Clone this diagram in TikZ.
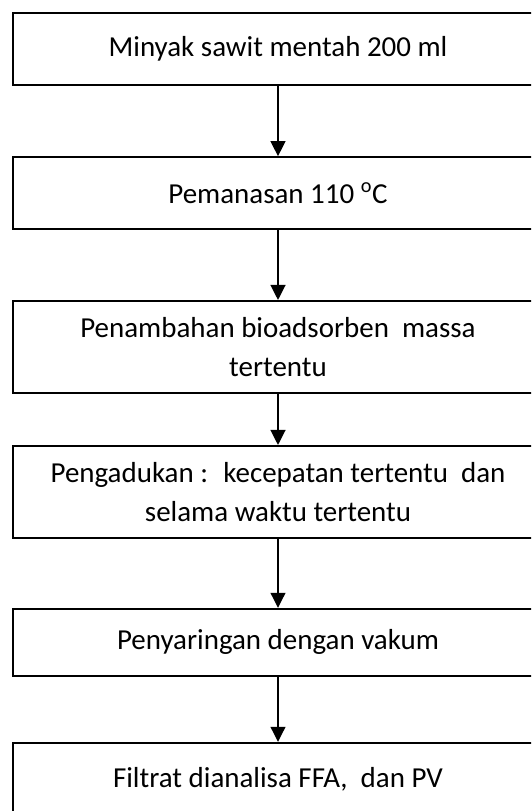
\documentclass[tikz,border=0pt]{standalone}
\usepackage{fontspec}
\setmainfont{Carlito}
\usetikzlibrary{arrows.meta}

\begin{document}
\begin{tikzpicture}[
  box/.style={draw, line width=1.4pt, minimum width=13.24cm, align=center,
    font=\fontsize{20.6pt}{27.7pt}\selectfont},
  >={Triangle[length=10.7pt,width=10.5pt]}, line width=1.4pt]
\clip (0,0) rectangle (13.275,-20.275);
\node[box, minimum height=1.8cm] (oil) at (6.95,-1.23) {Minyak sawit mentah 200 ml};
\node[box, minimum height=1.8cm] (heating) at (6.95,-4.83) {Pemanasan 110 \textsuperscript{o}C};
\node[box, minimum height=2.31cm] (bioadsorb) at (6.95,-8.68) {Penambahan bioadsorben~ massa\\tertentu};
\node[box, minimum height=2.3cm] (stirring) at (6.95,-12.3) {Pengadukan :~ kecepatan tertentu~ dan\\selama waktu tertentu};
\node[box, minimum height=1.68cm] (filtering) at (6.95,-16.06) {Penyaringan dengan vakum};
\node[box, minimum height=1.8cm] (filtrate) at (6.95,-19.47) {Filtrat dianalisa FFA,~ dan PV};
\draw[->] (oil) -- (heating);
\draw[->] (heating) -- (bioadsorb);
\draw[->] (bioadsorb) -- (stirring);
\draw[->] (stirring) -- (filtering);
\draw[->] (filtering) -- (filtrate);
\end{tikzpicture}
\end{document}
